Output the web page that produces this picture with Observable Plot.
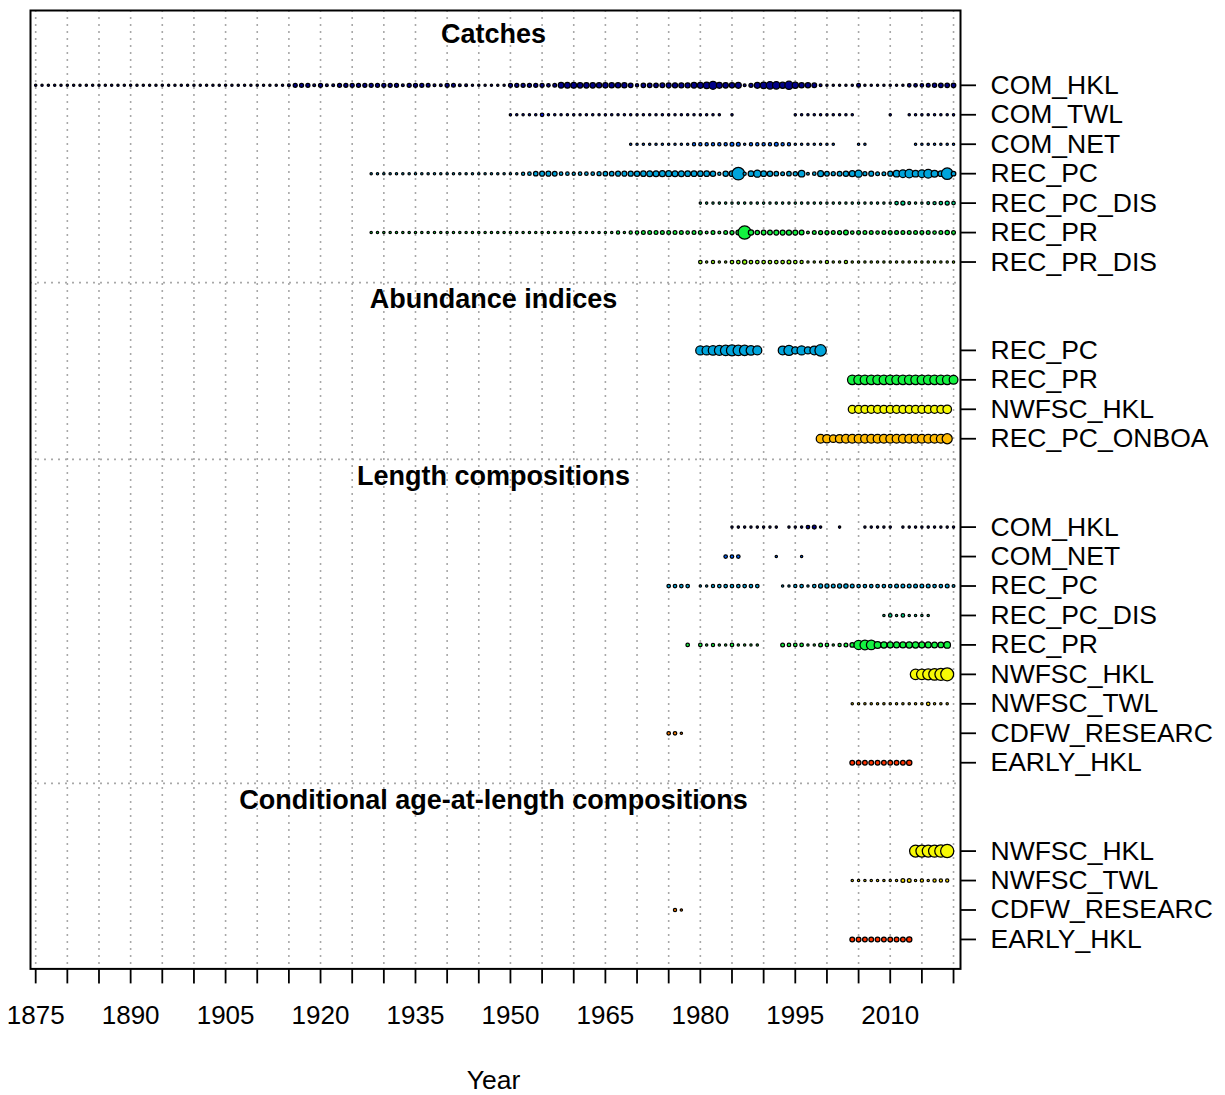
<!DOCTYPE html>
<html>
<head>
<meta charset="utf-8">
<script src="https://cdn.jsdelivr.net/npm/d3@7"></script>
<script src="https://cdn.jsdelivr.net/npm/@observablehq/plot@0.6"></script>
<style>
  body { margin: 0; background: #fff; }
  #chart svg { font-family: "Liberation Sans", Arial, sans-serif; background: #fff; }
</style>
</head>
<body>
<div id="chart"></div>
<script>
// ---------- categories ----------
const sectionNames = ["Catches", "Abundance indices", "Length compositions", "Conditional age-at-length compositions"];
const fleetNames  = ["COM_HKL","COM_TWL","COM_NET","REC_PC","REC_PC_DIS","REC_PR","REC_PR_DIS","NWFSC_HKL","NWFSC_TWL","REC_PC_ONBOA","CDFW_RESEARC","EARLY_HKL"];
const fleetColors = ["#000089","#0010DB","#0063FF","#00A4DB","#01D489","#13F240","#9AFF16","#F6F905","#FEE201","#FFB900","#FF7F00","#FF3300"];

const catchFleets = ["COM_HKL","COM_TWL","COM_NET","REC_PC","REC_PC_DIS","REC_PR","REC_PR_DIS"];
const indexFleets = ["REC_PC","REC_PR","NWFSC_HKL","REC_PC_ONBOA"];
const lengthFleets = ["COM_HKL","COM_NET","REC_PC","REC_PC_DIS","REC_PR","NWFSC_HKL","NWFSC_TWL","CDFW_RESEARC","EARLY_HKL"];
const ageFleets = ["NWFSC_HKL","NWFSC_TWL","CDFW_RESEARC","EARLY_HKL"];

// ---------- tick labels ----------
const tickYears = [1875,1880,1885,1890,1895,1900,1905,1910,1915,1920,1925,1930,1935,1940,1945,1950,1955,1960,1965,1970,1975,1980,1985,1990,1995,2000,2005,2010,2015,2020];
const labelYears = [1875,1890,1905,1920,1935,1950,1965,1980,1995,2010];

// ---------- series values (relative amount per year, 0 = no data) ----------
// Catches
const catchComHkl = {start: 1875, values: [
  1,1,1,1,1,1,1,1,1,1, 1,1,1,1,1,1,1,1,1,1, 1,1,1,1,1,1,1,1,1,1, 1,1,1,1,1,1,1,1,1,
  1,2,6,6,6,2,6,2,2,6, 6,6,6,6,6,6,6,6,6,2, 6,6,6,5,2,2,6,5,2,2, 1,1,1,1,1,1,
  6,6,6,6,6,6,4,5,14,15, 15,13,13,13,12,12,12,12,12,8, 3,8,8,8,9,10,11,11,11,14,
  16,20,32,16,13,12,16,2,6,16, 20,28,28,18,34,18,12,12,9,2,
  1,1,1,1,1,5,1,1,1,1, 1,1,1,4,4,4,5,7,8,8, 8]};
const catchComTwl = {start: 1950, values: [
  1,1,1,1,1,4,1,1,1,1, 1,1,1,1,1,1,1,1,1,1, 1,1,1,1,1,1,1,1,1,1,
  1,1,1,1,0,1,0,0,0,0, 0,0,0,0,0,1,1,1,1,1, 1,1,1,1,1,0,0,0,0,0,
  1,0,0,1,1,1,1,1,1,1, 1]};
const catchComNet = {start: 1969, values: [
  1, 1,1,1,1,1,1,1,1,1,3, 3,3,3,3,3,5,5,1,3,3, 3,3,5,3,3,1,1,1,1,1,
  1,1,0,0,0,1,1,0,0,0, 0,0,0,0,1,1,1,1,1,1, 1]};
const catchRecPc = {start: 1928, values: [
  1,1, 1,1,1,1,1,1,1,1,1,1, 1,1,1,1,1,1,1,1,1,1,
  1,1,3,4,8,10,10,9,4,4, 3,4,4,4,6,8,8,10,10,11, 12,13,15,15,16,16,15,15,14,14,
  13,14,12,3,12,14,90,3,14,25, 14,12,8,5,8,7,20,2,4,16,
  9,6,9,12,16,25,6,10,5,5, 10,20,30,36,20,30,40,22,14,75, 8]};
const catchRecPcDis = {start: 1980, values: [
  1,1,1,1,1,1,1,1,1,1, 1,1,1,1,1,1,1,1,1,1, 1,1,1,1,1,1,1,1,1,1,
  1,4,6,2,1,1,2,3,4,6, 4]};
const catchRecPr = {start: 1928, values: [
  1,1, 1,1,1,1,1,1,1,1,1,1, 1,1,1,1,1,1,1,1,1,1, 1,1,1,1,1,1,1,1,1,1,
  1,1,1,1,1,1,1,3,1,3, 4,5,5,5,5,5,5,5,4,5,
  5,2,5,2,5,6,9,100,12,7, 9,9,10,10,11,10,9,2,5,6,
  6,5,6,9,4,5,5,5,4,5, 5,5,5,5,5,5,5,4,5,7, 5]};
const catchRecPrDis = {start: 1980, values: [
  4,1,3,1,1,4,4,7,4,4, 4,4,4,4,5,4,3,1,1,1, 3,1,1,3,1,1,1,1,1,1,
  1,1,1,1,1,1,1,1,1,1, 1]};

// Abundance indices
const indexRecPc = {start: 1980, values: [45,45,48,52,60,68,60,58,50,42, 0,0,0,40,55,25,45,25,40,72]};
const indexRecPr = {start: 2004, values: [48,48,48,48,48,48,48,48,48,48,48,48,48,48,48,48,40]};
const indexNwfscHkl = {start: 2004, values: [32,32,32,32,32,32,32,32,32,32,32,32,32,32,32,38]};
const indexRecPcOnboard = {start: 1999, values: [40,36,28,36,38,40,40,38,40,40, 40,40,40,40,40,40,40,40,40,42, 55]};

// Length compositions
const lenComHkl = {start: 1985, values: [1,1,1,1,1,1,1,1,0,1, 1,1,4,5,1,0,0,1,0,0, 0,1,1,1,1,1,0,1,1,1, 1,1,1,1,1,1]};
const lenComNet = {start: 1984, values: [4,4,4,0,0,0,0,0,1,0,0,0,1]};
const lenRecPc = {start: 1975, values: [4,4,4,4,0,1,1,3,4,4, 4,4,4,4,4,0,0,0,1,1, 3,4,1,4,6,6,5,6,7,5, 4,4,4,4,4,4,5,5,5,5, 5,5,4,4,5,2]};
const lenRecPcDis = {start: 2009, values: [1,4,1,4,1,1,1,1]};
const lenRecPr = {start: 1978, values: [4,0,4,1,3,1,1,4,1,1, 1,1,0,0,0,5,4,4,4,1, 1,5,4,1,3,5,8,45,52,50, 22,18,16,16,16,18,18,16,16,15, 14,20]};
const lenNwfscHkl = {start: 2014, values: [60,62,66,75,80,95]};
const lenNwfscTwl = {start: 2004, values: [1,1,1,1,1,1,1,1,1,1,1,1,4,1,1,1]};
const lenCdfw = {start: 1975, values: [4,4,1]};
const lenEarlyHkl = {start: 2004, values: [9,9,9,9,9,9,9,9,9,12]};

// Conditional age-at-length compositions
const ageNwfscHkl = {start: 2014, values: [80,80,80,82,85,100]};
const ageNwfscTwl = {start: 2004, values: [1,1,1,1,1,1,1,1,5,5,1,3,1,3,3,3]};
const ageCdfw = {start: 1976, values: [3,1]};
const ageEarlyHkl = {start: 2004, values: [9,9,9,9,9,9,9,9,9,12]};

// ---------- build table ----------
const sections = [
  {name: sectionNames[0], fleets: catchFleets,  series: [catchComHkl, catchComTwl, catchComNet, catchRecPc, catchRecPcDis, catchRecPr, catchRecPrDis]},
  {name: sectionNames[1], fleets: indexFleets,  series: [indexRecPc, indexRecPr, indexNwfscHkl, indexRecPcOnboard]},
  {name: sectionNames[2], fleets: lengthFleets, series: [lenComHkl, lenComNet, lenRecPc, lenRecPcDis, lenRecPr, lenNwfscHkl, lenNwfscTwl, lenCdfw, lenEarlyHkl]},
  {name: sectionNames[3], fleets: ageFleets,    series: [ageNwfscHkl, ageNwfscTwl, ageCdfw, ageEarlyHkl]}
];

const colorOf = new Map(fleetNames.map((f, i) => [f, fleetColors[i]]));
const rowTicks = [], headers = [], separators = [], points = [];
let pos = 0;
for (let s = sections.length - 1; s >= 0; s--) {
  const sec = sections[s];
  if (s < sections.length - 1) { separators.push(pos + 2.3); pos += 2; }
  const rowPos = [];
  for (let f = sec.fleets.length - 1; f >= 0; f--) {
    pos += 1;
    rowPos[f] = pos;
    rowTicks.push({y: pos, label: sec.fleets[f]});
  }
  headers.push({name: sec.name, y: pos + 1.72});
  sec.fleets.forEach((fleet, f) => {
    const ser = sec.series[f];
    ser.values.forEach((v, i) => {
      if (v > 0) points.push({year: ser.start + i, y: rowPos[f], v, color: colorOf.get(fleet), fleet});
    });
  });
}
// draw in row order by year so later years overlap earlier ones
points.sort((a, b) => (a.y - b.y) || (a.year - b.year));
const labelAt = new Map(rowTicks.map(d => [d.y, d.label]));

const chart = Plot.plot({
  width: 1225,
  height: 1095,
  marginTop: 10,
  marginLeft: 30,
  marginRight: 265,
  marginBottom: 126.6,
  x: {domain: [1874.18, 2021.10]},
  y: {domain: [0, 32.54]},
  r: {type: "sqrt", domain: [0, 100], range: [0.55, 6.6]},
  color: {type: "identity"},
  marks: [
    Plot.ruleX(tickYears, {stroke: "#a8a8a8", strokeWidth: 1.6, strokeDasharray: "2,5"}),
    Plot.ruleY(separators, {stroke: "#a8a8a8", strokeWidth: 1.6, strokeDasharray: "2,5"}),
    Plot.dot(points, {x: "year", y: "y", r: "v", fill: "color", stroke: "black", strokeWidth: 1.25, sort: null}),
    Plot.frame({stroke: "black", strokeWidth: 2}),
    Plot.axisX({ticks: tickYears, tickSize: 15, tickPadding: 22, strokeWidth: 1.8,
      tickFormat: d => labelYears.includes(d) ? String(d) : "", fontSize: 26, label: null}),
    Plot.axisY({anchor: "right", ticks: rowTicks.map(d => d.y), tickSize: 15, tickPadding: 15, strokeWidth: 1.8,
      tickFormat: d => labelAt.get(d), fontSize: 26.5, label: null}),
    Plot.text(headers, {y: "y", text: "name", fontWeight: "bold", fontSize: 27, fill: "black", dx: -2}),
    Plot.text(["Year"], {frameAnchor: "bottom", text: d => d, dy: 120, dx: -2, fontSize: 26.5, fill: "black"})
  ]
});
document.getElementById("chart").appendChild(chart);
</script>
</body>
</html>
